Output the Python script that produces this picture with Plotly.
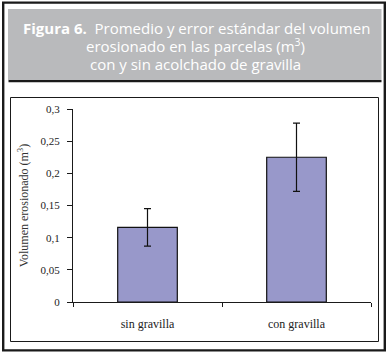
import plotly.graph_objects as go

categories = ["sin gravilla", "con gravilla"]
means = [0.116, 0.225]
std_err = [0.029, 0.053]
y_ticks = [0, 0.05, 0.1, 0.15, 0.2, 0.25, 0.3]
y_tick_labels = ["0", "0,05", "0,1", "0,15", "0,2", "0,25", "0,3"]

W, H = 388, 355
L, R, T, B = 73, 371, 109, 302  # plot area in pixels

def px(x):
    return (x - L) / (R - L)

def py(y):
    return (B - y) / (B - T)

fig = go.Figure()
fig.add_trace(go.Bar(
    x=categories, y=means, width=0.4,
    marker=dict(color="#9898CA", line=dict(color="#111111", width=1.2)),
    error_y=dict(type="data", array=std_err, visible=True,
                 color="#111111", thickness=1.2, width=3.5),
))

shapes = []
# outer frame
shapes.append(dict(type="rect", xref="paper", yref="paper",
                   x0=px(3.2), x1=px(384.8), y0=py(2.6), y1=py(350.4),
                   line=dict(color="#1a1a1a", width=2.4), fillcolor="rgba(0,0,0,0)", layer="above"))
# gray header
shapes.append(dict(type="rect", xref="paper", yref="paper",
                   x0=px(8), x1=px(381.5), y0=py(9), y1=py(80),
                   line=dict(width=0), fillcolor="#b9babc", layer="below"))
shapes.append(dict(type="rect", xref="paper", yref="paper",
                   x0=px(8.5), x1=px(381.5), y0=py(80), y1=py(82.3),
                   line=dict(width=0), fillcolor="#1a1a1a", layer="below"))
# inner chart box
shapes.append(dict(type="rect", xref="paper", yref="paper",
                   x0=px(10.5), x1=px(378.5), y0=py(97.5), y1=py(341.5),
                   line=dict(color="#1a1a1a", width=1), fillcolor="rgba(0,0,0,0)", layer="below"))

title_font = dict(family="'Open Sans', Lato, sans-serif", size=15, color="white")
annotations = [
    dict(xref="paper", yref="paper", x=px(196), y=py(28), xanchor="center", yanchor="middle",
         showarrow=False, font=title_font,
         text="<b>Figura 6.</b>  Promedio y error estándar del volumen"),
    dict(xref="paper", yref="paper", x=px(195), y=py(46), xanchor="center", yanchor="middle",
         showarrow=False, font=title_font,
         text="erosionado en las parcelas (m<sup>3</sup>)"),
    dict(xref="paper", yref="paper", x=px(195), y=py(64), xanchor="center", yanchor="middle",
         showarrow=False, font=title_font,
         text="con y sin acolchado de gravilla"),
]

serif = "'Liberation Serif', 'Times New Roman', serif"
fig.update_layout(
    width=W, height=H,
    margin=dict(l=L, r=W - R, t=T, b=H - B, pad=0, autoexpand=False),
    paper_bgcolor="white", plot_bgcolor="white",
    showlegend=False,
    shapes=shapes, annotations=annotations,
    font=dict(family=serif, size=11, color="#222222"),
    bargap=0.6,
    xaxis=dict(
        automargin=False,
        showline=True, linecolor="#1a1a1a", linewidth=1,
        ticks="outside", ticklen=4, tickcolor="#1a1a1a", tickson="boundaries",
        tickfont=dict(family=serif, size=12, color="#222222"),
        ticklabelstandoff=11, showgrid=False, zeroline=False,
    ),
    yaxis=dict(
        automargin=False,
        range=[0, 0.3], tickvals=y_ticks, ticktext=y_tick_labels,
        showline=True, linecolor="#1a1a1a", linewidth=1,
        ticks="outside", ticklen=5, tickcolor="#1a1a1a",
        tickfont=dict(family=serif, size=11, color="#222222"),
        ticklabelstandoff=5, showgrid=False, zeroline=False,
        title=dict(text="Volumen erosionado (m<sup>3</sup>)",
                   font=dict(family=serif, size=12, color="#333333"), standoff=9),
    ),
)

fig.write_html("out.html", config={"displayModeBar": False},
               post_script="document.body.style.margin='0';document.body.style.overflow='hidden';")
